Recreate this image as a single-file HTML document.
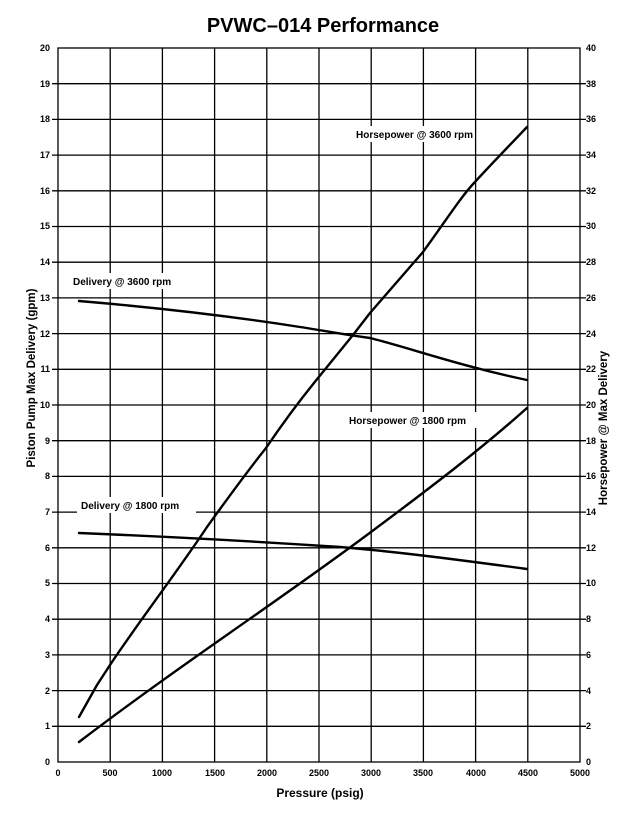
<!DOCTYPE html>
<html><head><meta charset="utf-8"><style>
html,body{margin:0;padding:0;background:#fff}
svg text{font-family:"Liberation Sans",sans-serif;font-weight:bold;fill:#000}
</style></head><body>
<svg width="638" height="812" viewBox="0 0 638 812" xmlns="http://www.w3.org/2000/svg">
<g stroke="#000" stroke-width="1.3" fill="none">
<rect x="58" y="48" width="522" height="714"/>
</g>
<g stroke="#000" stroke-width="1.3">
<line x1="110.2" y1="48" x2="110.2" y2="762"/><line x1="162.4" y1="48" x2="162.4" y2="762"/>
<line x1="214.6" y1="48" x2="214.6" y2="762"/><line x1="266.8" y1="48" x2="266.8" y2="762"/>
<line x1="319" y1="48" x2="319" y2="762"/><line x1="371.2" y1="48" x2="371.2" y2="762"/>
<line x1="423.4" y1="48" x2="423.4" y2="762"/><line x1="475.6" y1="48" x2="475.6" y2="762"/>
<line x1="527.8" y1="48" x2="527.8" y2="762"/>
<line x1="52" y1="83.7" x2="586" y2="83.7"/><line x1="52" y1="119.4" x2="586" y2="119.4"/>
<line x1="52" y1="155.1" x2="586" y2="155.1"/><line x1="52" y1="190.8" x2="586" y2="190.8"/>
<line x1="52" y1="226.5" x2="586" y2="226.5"/><line x1="52" y1="262.2" x2="586" y2="262.2"/>
<line x1="52" y1="297.9" x2="586" y2="297.9"/><line x1="52" y1="333.6" x2="586" y2="333.6"/>
<line x1="52" y1="369.3" x2="586" y2="369.3"/><line x1="52" y1="405" x2="586" y2="405"/>
<line x1="52" y1="440.7" x2="586" y2="440.7"/><line x1="52" y1="476.4" x2="586" y2="476.4"/>
<line x1="52" y1="512.1" x2="586" y2="512.1"/><line x1="52" y1="547.8" x2="586" y2="547.8"/>
<line x1="52" y1="583.5" x2="586" y2="583.5"/><line x1="52" y1="619.2" x2="586" y2="619.2"/>
<line x1="52" y1="654.9" x2="586" y2="654.9"/><line x1="52" y1="690.6" x2="586" y2="690.6"/>
<line x1="52" y1="726.3" x2="586" y2="726.3"/>
</g>
<g fill="#fff">
<rect x="352" y="126" width="114" height="16"/>
<rect x="69" y="273" width="120" height="16"/>
<rect x="345" y="412" width="142" height="16"/>
<rect x="77" y="497" width="119" height="16"/>
</g>
<g fill="none" stroke="#000" stroke-width="2.4" stroke-linecap="round" stroke-linejoin="round">
<path d="M79,717 L97,685 L110,665 C140,620 175,575 207,527 C230,495 250,468 266,448 C285,420 300,400 318,378 L353,335 L370,313 L423,252 C445,222 460,198 474,183 C495,160 510,145 527,127"/>
<path d="M79,742 C180,665 280,600 371,532 C430,488 480,450 527,408"/>
<path d="M79,301 C150,307 230,316 300,327 C320,330 340,334 370,338 C410,348 460,366 527,380"/>
<path d="M79,533 C200,538 280,543 340,547 C400,552 460,560 527,569"/>
</g>
<g font-size="9" text-anchor="end">
<text x="50" y="51">20</text><text x="50" y="87">19</text><text x="50" y="122">18</text><text x="50" y="158">17</text>
<text x="50" y="194">16</text><text x="50" y="229">15</text><text x="50" y="265">14</text><text x="50" y="301">13</text>
<text x="50" y="337">12</text><text x="50" y="372">11</text><text x="50" y="408">10</text><text x="50" y="444">9</text>
<text x="50" y="479">8</text><text x="50" y="515">7</text><text x="50" y="551">6</text><text x="50" y="586">5</text>
<text x="50" y="622">4</text><text x="50" y="658">3</text><text x="50" y="694">2</text><text x="50" y="729">1</text>
<text x="50" y="765">0</text>
</g>
<g font-size="9">
<text x="586" y="51">40</text><text x="586" y="87">38</text><text x="586" y="122">36</text><text x="586" y="158">34</text>
<text x="586" y="194">32</text><text x="586" y="229">30</text><text x="586" y="265">28</text><text x="586" y="301">26</text>
<text x="586" y="337">24</text><text x="586" y="372">22</text><text x="586" y="408">20</text><text x="586" y="444">18</text>
<text x="586" y="479">16</text><text x="586" y="515">14</text><text x="586" y="551">12</text><text x="586" y="586">10</text>
<text x="586" y="622">8</text><text x="586" y="658">6</text><text x="586" y="694">4</text><text x="586" y="729">2</text>
<text x="586" y="765">0</text>
</g>
<g font-size="9" text-anchor="middle">
<text x="58" y="776">0</text><text x="110" y="776">500</text><text x="162" y="776">1000</text><text x="215" y="776">1500</text>
<text x="267" y="776">2000</text><text x="319" y="776">2500</text><text x="371" y="776">3000</text><text x="423" y="776">3500</text>
<text x="476" y="776">4000</text><text x="528" y="776">4500</text><text x="580" y="776">5000</text>
</g>
<g font-size="10">
<text x="356" y="138">Horsepower @ 3600 rpm</text>
<text x="73" y="285">Delivery @ 3600 rpm</text>
<text x="349" y="424">Horsepower @ 1800 rpm</text>
<text x="81" y="509">Delivery @ 1800 rpm</text>
</g>
<text x="323" y="32" font-size="20" text-anchor="middle">PVWC–014 Performance</text>
<text x="320" y="797" font-size="12" text-anchor="middle">Pressure (psig)</text>
<text transform="translate(35,378) rotate(-90)" font-size="11.5" text-anchor="middle">Piston Pump Max Delivery (gpm)</text>
<text transform="translate(607,428) rotate(-90)" font-size="11.5" text-anchor="middle">Horsepower @ Max Delivery</text>
</svg>
</body></html>
